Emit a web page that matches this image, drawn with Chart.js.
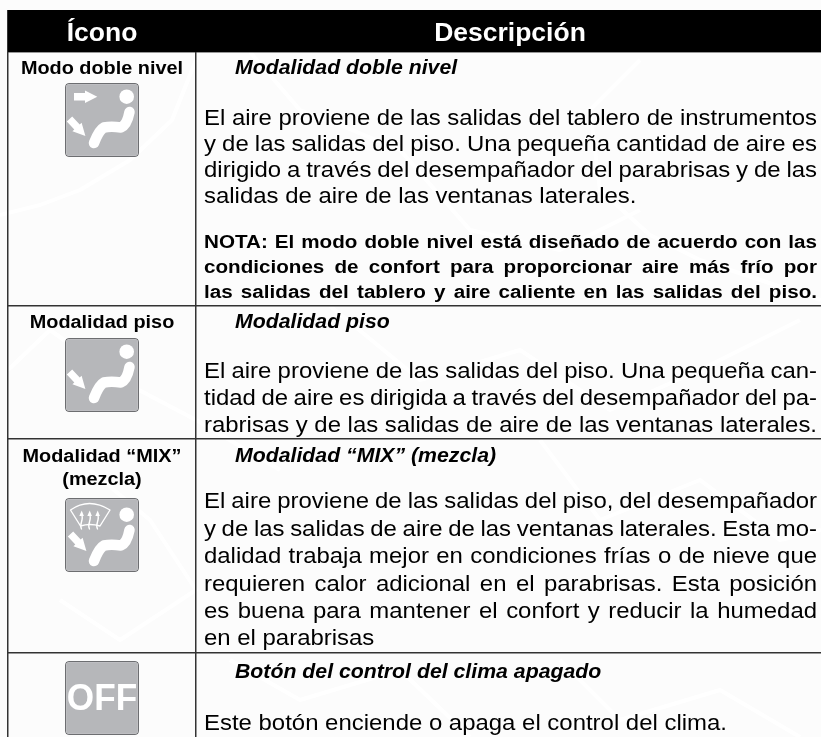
<!DOCTYPE html>
<html lang="es">
<head>
<meta charset="utf-8">
<title>Ícono / Descripción</title>
<script src="https://cdn.jsdelivr.net/npm/chart.js@4"></script>
<style>
  html, body { margin: 0; padding: 0; background: #fcfcfc; }
  canvas { display: block; }
</style>
</head>
<body>
<canvas id="tableChart" width="821" height="737"></canvas>
<script>
const headers = ["Ícono", "Descripción"];
const rowLabels = [
  ["Modo doble nivel"],
  ["Modalidad piso"],
  ["Modalidad “MIX”", "(mezcla)"],
  []
];
const rowTitles = [
  "Modalidad doble nivel",
  "Modalidad piso",
  "Modalidad “MIX” (mezcla)",
  "Botón del control del clima apagado"
];
const rowBodies = [
  ["El aire proviene de las salidas del tablero de instrumentos",
   "y de las salidas del piso. Una pequeña cantidad de aire es",
   "dirigido a través del desempañador del parabrisas y de las",
   "salidas de aire de las ventanas laterales."],
  ["El aire proviene de las salidas del piso. Una pequeña can-",
   "tidad de aire es dirigida a través del desempañador del pa-",
   "rabrisas y de las salidas de aire de las ventanas laterales."],
  ["El aire proviene de las salidas del piso, del desempañador",
   "y de las salidas de aire de las ventanas laterales. Esta mo-",
   "dalidad trabaja mejor en condiciones frías o de nieve que",
   "requieren calor adicional en el parabrisas. Esta posición",
   "es buena para mantener el confort y reducir la humedad",
   "en el parabrisas"],
  ["Este botón enciende o apaga el control del clima."]
];
const noteLines = [
  "NOTA: El modo doble nivel está diseñado de acuerdo con las",
  "condiciones de confort para proporcionar aire más frío por",
  "las salidas del tablero y aire caliente en las salidas del piso."
];
const offLabel = "OFF";
const columnEdges = [8, 196];
const rowEdges = [52, 306, 439, 653];
const iconSpans = [[83, 157], [338, 412], [498, 572], [661, 735]];

// layout of the text, in axis units
const FONT = '"Liberation Sans", Arial, sans-serif';
const BODY_LEFT = 204, BODY_RIGHT = 817, ICON_X = 102, ICON_W = 74;
const labelBase = [[74], [328], [461.7, 485]];
const titleBase = [74, 328, 461.7, 678];
const bodyBase = [
  [124.5, 150.5, 176.5, 202.5],
  [378, 405, 431.5],
  [508, 535.5, 563, 590.5, 618, 645],
  [730]
];
const noteBase = [248, 273, 298];

// the source page is wider than tall, so text gets a small horizontal stretch
function stretched(ctx, text, x, y, sx, right) {
  ctx.save();
  ctx.translate(x, y);
  ctx.scale(sx, 1);
  if (right !== undefined) {
    const gaps = text.split(" ").length - 1;
    const extra = ((right - x) / sx - ctx.measureText(text).width) / gaps;
    ctx.wordSpacing = extra + "px";
  }
  ctx.fillText(text, 0, 0);
  ctx.restore();
}

function arrow(ctx, x, y, angle) {
  ctx.save();
  ctx.translate(x, y);
  ctx.rotate(angle);
  ctx.beginPath();
  ctx.moveTo(0, -3.7);
  ctx.lineTo(11, -3.7);
  ctx.lineTo(11, -6.3);
  ctx.lineTo(23.3, 0);
  ctx.lineTo(11, 6.3);
  ctx.lineTo(11, 3.7);
  ctx.lineTo(0, 3.7);
  ctx.closePath();
  ctx.fill();
  ctx.restore();
}

function seatedFigure(ctx, dy) {
  ctx.beginPath();
  ctx.arc(61.7, 13.7 + dy, 7.3, 0, Math.PI * 2);
  ctx.fill();
  ctx.lineWidth = 10.5;
  ctx.lineCap = "round";
  ctx.lineJoin = "round";
  ctx.beginPath();
  ctx.moveTo(64.5, 29 + dy);
  ctx.quadraticCurveTo(62, 42 + dy, 56, 44.5 + dy);
  ctx.quadraticCurveTo(46, 43 + dy, 39, 44.5 + dy);
  ctx.quadraticCurveTo(34, 47 + dy, 29, 60 + dy);
  ctx.stroke();
}

function defroster(ctx) {
  ctx.lineWidth = 1.4;
  ctx.lineCap = "round";
  ctx.beginPath();
  ctx.moveTo(5.5, 12);
  ctx.quadraticCurveTo(24, -1, 45, 12);
  ctx.lineTo(35, 28);
  ctx.quadraticCurveTo(25, 25, 15.5, 28);
  ctx.closePath();
  ctx.stroke();
  [16.5, 24.5, 32.5].forEach(x => {
    ctx.beginPath();
    ctx.moveTo(x, 31);
    ctx.bezierCurveTo(x - 3, 26, x + 3, 22, x, 16);
    ctx.stroke();
    ctx.beginPath();
    ctx.moveTo(x - 2.2, 18);
    ctx.lineTo(x + 0.2, 12.5);
    ctx.lineTo(x + 2.4, 18);
    ctx.closePath();
    ctx.fill();
  });
}

const tablePlugin = {
  id: "tableText",
  beforeDraw(chart) {
    // pale cracked paper behind the table
    const { ctx } = chart;
    const cracks = [
      [[0, 215], [40, 205], [80, 190], [110, 172], [130, 160], [172, 120], [196, 60]],
      [[250, 52], [300, 110], [340, 125], [400, 150], [470, 230], [560, 250], [640, 210]],
      [[640, 60], [590, 110], [600, 190], [650, 235], [700, 260], [821, 300]],
      [[8, 370], [50, 330], [120, 380], [196, 420], [280, 470]],
      [[330, 306], [420, 380], [520, 350], [610, 410], [700, 370], [800, 320]],
      [[90, 470], [150, 520], [196, 590], [120, 640], [60, 600]],
      [[540, 440], [600, 520], [700, 480], [780, 540], [821, 530]],
      [[230, 660], [300, 700], [400, 670], [470, 737]],
      [[560, 660], [620, 720], [720, 690], [800, 737]]
    ];
    ctx.save();
    ctx.strokeStyle = "#ffffff";
    ctx.lineWidth = 4;
    ctx.lineJoin = "round";
    cracks.forEach(path => {
      ctx.beginPath();
      path.forEach(([x, y], i) => (i ? ctx.lineTo(x, y) : ctx.moveTo(x, y)));
      ctx.stroke();
    });
    ctx.restore();
  },
  afterDatasetsDraw(chart) {
    const { ctx, scales: { x, y } } = chart;
    const cellCentre = x.getPixelForValue(ICON_X);
    const left = x.getPixelForValue(BODY_LEFT);
    const right = x.getPixelForValue(BODY_RIGHT);

    ctx.save();
    ctx.textBaseline = "alphabetic";

    // header
    ctx.fillStyle = "#ffffff";
    ctx.font = "bold 25px " + FONT;
    ctx.textAlign = "center";
    stretched(ctx, headers[0], cellCentre, y.getPixelForValue(40.7), 1.06);
    stretched(ctx, headers[1], x.getPixelForValue(510), y.getPixelForValue(40.7), 1.06);

    // left column labels
    ctx.fillStyle = "#000000";
    ctx.font = "bold 19.2px " + FONT;
    rowLabels.forEach((lines, r) => {
      lines.forEach((text, i) => stretched(ctx, text, cellCentre, y.getPixelForValue(labelBase[r][i]), 1.035));
    });

    // right column
    ctx.textAlign = "left";
    ctx.font = "italic bold 19.8px " + FONT;
    rowTitles.forEach((text, r) => stretched(ctx, text, x.getPixelForValue(235), y.getPixelForValue(titleBase[r]), 1.075));

    ctx.font = "22px " + FONT;
    rowBodies.forEach((lines, r) => {
      lines.forEach((text, i) => {
        const py = y.getPixelForValue(bodyBase[r][i]);
        const last = i === lines.length - 1 && r !== 1;
        stretched(ctx, text, left, py, 1.088, last ? undefined : right);
      });
    });

    ctx.font = "bold 19.2px " + FONT;
    noteLines.forEach((text, i) => stretched(ctx, text, left, y.getPixelForValue(noteBase[i]), 1.075, right));

    // icon glyphs, drawn in box coordinates
    iconSpans.forEach((span, r) => {
      ctx.save();
      ctx.translate(x.getPixelForValue(ICON_X - ICON_W / 2), y.getPixelForValue(span[0]));
      ctx.fillStyle = "#ffffff";
      ctx.strokeStyle = "#ffffff";
      if (r === 3) {
        ctx.font = "bold 37px " + FONT;
        ctx.textAlign = "center";
        stretched(ctx, offLabel, ICON_W / 2, 49, 0.95);
      } else {
        seatedFigure(ctx, r === 2 ? 3 : 0);
        if (r === 0) arrow(ctx, 9, 13.7, 0);
        if (r === 2) defroster(ctx);
        arrow(ctx, r === 2 ? 5.5 : 4.5, r === 1 ? 34 : 36, 0.82);
      }
      ctx.restore();
    });

    ctx.restore();
  }
};

new Chart(document.getElementById("tableChart"), {
  type: "bar",
  plugins: [tablePlugin],
  data: {
    datasets: [
      {
        label: "Encabezado",
        data: [{ x: (columnEdges[0] + 821) / 2, y: [10, rowEdges[0]] }],
        backgroundColor: "#000000",
        barThickness: 813,
        borderSkipped: false,
        inflateAmount: 0,
        grouped: false,
        order: 2
      },
      {
        label: "Íconos",
        data: iconSpans.map(span => ({ x: ICON_X, y: span })),
        backgroundColor: "#b6b7ba",
        borderColor: "#6d6e71",
        borderWidth: 1.2,
        borderRadius: 4,
        barThickness: ICON_W,
        borderSkipped: false,
        inflateAmount: 0,
        grouped: false,
        order: 1
      }
    ]
  },
  options: {
    responsive: false,
    animation: false,
    layout: { padding: { left: 7, top: 10 } },
    plugins: { legend: { display: false }, title: { display: false }, tooltip: { enabled: false } },
    scales: {
      x: {
        type: "linear",
        min: 7,
        max: 821,
        offset: false,
        border: { display: false },
        grid: { offset: false, color: "#333333", lineWidth: 1.5, drawTicks: false },
        ticks: { display: false },
        afterBuildTicks: axis => { axis.ticks = columnEdges.map(value => ({ value })); }
      },
      y: {
        type: "linear",
        reverse: true,
        min: 10,
        max: 737,
        border: { display: false },
        grid: { color: "#333333", lineWidth: 1.5, drawTicks: false },
        ticks: { display: false },
        afterBuildTicks: axis => { axis.ticks = rowEdges.map(value => ({ value })); }
      }
    }
  }
});
</script>
</body>
</html>
